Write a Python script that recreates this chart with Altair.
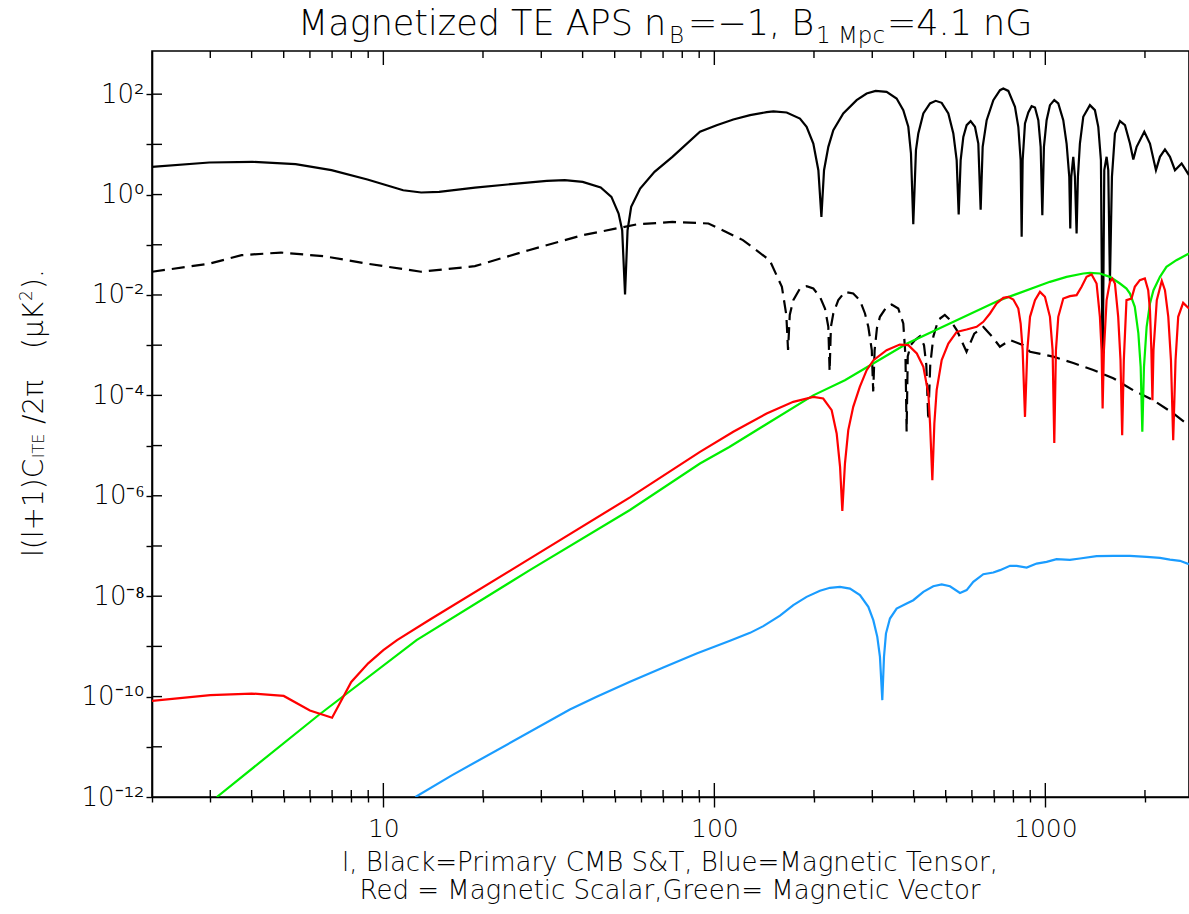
import math

import altair as alt
import pandas as pd

FONT = "DejaVu Sans"
TXT = "#000000"

# ---- spectra: multipole l and l(l+1)C_l/2pi in uK^2 ----
cmb_l = [2, 2.98, 4.02, 5.43, 6.97, 8.95, 11.48, 13.01, 14.74, 18.92,
         24.29, 31.18, 35.32, 40.02, 45.36, 48.87, 51.37, 52.67, 53.73, 54.68,
         56.07, 59.69, 65.96, 74.70, 90.5, 101.6, 114.1, 128.2, 143.9, 150.8,
         165.4, 181.4, 190.0, 199.1, 206.2, 210.6, 214.5, 221.0, 228.8, 245.2,
         269.1, 288.5, 307.1, 331.5, 355.4, 372.3, 385.5, 392.7, 399.1, 406.6,
         413.3, 428.0, 448.4, 466.4, 486.3, 509.3, 527.3, 539.7, 547.3, 554.9,
         565.3, 578.5, 594.8, 613.0, 627.4, 637.7, 646.7, 665.0, 696.5, 729.6,
         746.6, 773.0, 809.7, 828.7, 842.3, 848.2, 854.1, 868.1, 888.4, 909.3,
         930.6, 952.4, 968.1, 979.4, 990.4, 1009.0, 1032.7, 1064.3, 1094.3, 1133.0,
         1159.5, 1181.3, 1189.5, 1197.8, 1214.6, 1228.7, 1243.0, 1254.5, 1272.0, 1302.0,
         1363.8, 1412.0, 1445.4, 1472.3, 1489.7, 1507.0, 1531.6, 1549.5, 1567.5, 1589.6,
         1623.0, 1680.7, 1740.3, 1801.9, 1844.2, 1887.5, 1990.8, 2070.8, 2159.0, 2219.9,
         2298.5, 2379.8, 2464.3, 2580.9, 2716.4]
cmb_v = [3.57, 4.35, 4.49, 4.03, 3.06, 2.00, 1.22, 1.10, 1.13, 1.38,
         1.61, 1.88, 1.94, 1.79, 1.38, 0.90, 0.42, 0.195, 0.0102, 0.195,
         0.57, 1.32, 2.84, 5.65, 17.8, 24.1, 31.3, 38.2, 43.8, 45.2,
         43.1, 32.7, 22.4, 10.4, 3.06, 0.36, 3.06, 8.93, 19.2, 41.2,
         76.0, 103, 116, 111, 82.0, 48.0, 22.4, 6.58, 0.257, 7.66,
         16.5, 41.2, 65.2, 73.7, 67.2, 41.2, 16.5, 4.84, 0.40, 4.84,
         14.1, 24.1, 29.0, 22.4, 10.4, 0.50, 8.93, 30.3, 76.0, 120,
         130, 116, 55.9, 22.4, 4.84, 0.144, 4.84, 26.0, 43.1, 57.7,
         54.3, 30.3, 8.93, 0.389, 8.93, 30.3, 60.4, 76.0, 65.2, 30.3,
         10.4, 2.25, 0.211, 2.25, 5.65, 2.25, 0.168, 2.25, 10.4, 35.4,
         60.4, 48.0, 22.4, 4.84, 2e-4, 3.06, 5.65, 3.06, 0.0183, 2.25,
         16.5, 29.0, 24.1, 10.4, 4.99, 8.93, 17.8, 10.4, 3.06, 5.65,
         7.90, 5.65, 3.06, 4.16, 2.44]

cmb_dash_l = [2, 2.98, 3.73, 4.91, 6.63, 8.95, 13.0, 18.9, 27.5, 40,
              58.2, 74.7, 96, 122, 147, 160, 165, 167, 169, 173.2,
              181.4, 190, 199.1, 208.5, 215.9, 221, 223, 225, 228.8, 236.9,
              248.1, 262.8, 275.1, 285.2, 291.9, 299, 302, 305, 310, 316.5,
              331.5, 343.3, 359.5, 372.3, 378, 381, 384, 392, 404, 418,
              430, 437, 443, 449, 459, 475, 497, 515, 540, 578,
              610, 650, 690, 729, 782, 858, 899, 1057, 1215, 1396,
              1604, 1844, 2118, 2434, 2716]
cmb_dash_v = [0.029, 0.042, 0.062, 0.070, 0.059, 0.042, 0.029, 0.0375, 0.078, 0.155,
              0.254, 0.286, 0.265, 0.124, 0.049, 0.0145, 0.004, 8e-4, 0.004, 7.88e-3,
              0.01345, 0.01497, 0.01345, 9.19e-3, 5.38e-3, 2.32e-3, 3e-4, 2.32e-3, 4.28e-3, 7.88e-3,
              0.01155, 0.0107, 7.88e-3, 4.28e-3, 2.32e-3, 8e-4, 1.2e-4, 8e-4, 2.2e-3, 3.67e-3,
              5.8e-3, 6.46e-3, 5.38e-3, 2.7e-3, 6e-4, 1.9e-5, 6e-4, 1e-3, 1.26e-3, 1.5e-3,
              1e-3, 4e-4, 3.2e-5, 4e-4, 1.5e-3, 3.2e-3, 4e-3, 3.2e-3, 2e-3, 7.4e-4,
              1.7e-3, 2.3e-3, 1.5e-3, 9.3e-4, 1.26e-3, 1e-3, 7.4e-4, 5.9e-4, 4.4e-4, 3.2e-4,
              2.2e-4, 1.26e-4, 8e-5, 4.4e-5, 2.5e-5]

scalar_l = [2, 3, 4, 5, 6, 7, 8, 9, 10, 11, 13.8, 27.7, 55.6,
            90.5, 114.1, 143.9, 173.2, 199.1, 213.3, 226.2, 234.2, 239.8, 243.6,
            248.1, 253.9, 262.8, 275.1, 288.5, 302.6, 331.5, 363.3, 385.5, 409.0,
            428.0, 443.2, 448.4, 455.7, 462.1, 469.6, 486.3, 509.3, 539.7, 578.5,
            620.2, 649.6, 680.4, 712.7, 746.6, 773.0, 800.4, 828.7, 842.3, 854.1,
            868.1, 882.3, 899.0, 930.6, 963.4, 997.3, 1032.7, 1051.9, 1064.3, 1076.6,
            1094.3, 1133.0, 1186.5, 1243.0, 1286.9, 1332.5, 1379.5, 1428.4, 1461.9, 1479.0,
            1489.7, 1503.4, 1531.6, 1567.5, 1593.3, 1623.0, 1660.2, 1687.2, 1706.8, 1726.5,
            1758.7, 1821.0, 1863.5, 1929.8, 1998.3, 2045.6, 2070.8, 2091.1, 2106.6, 2122.2,
            2171.4, 2248.6, 2298.5, 2352.4, 2396.4, 2434.3, 2474.1, 2520.3, 2608.7, 2716.4]
scalar_v = [8.2e-11, 1.07e-10, 1.15e-10, 1.03e-10, 5.3e-11, 3.8e-11, 1.96e-10, 4.6e-10, 8.4e-10,
            1.33e-9, 3.4e-9, 5.6e-8, 9.3e-7,
            7.5e-6, 1.88e-5, 4.36e-5, 7.44e-5, 9.35e-5, 8.65e-5, 5.07e-5, 1.74e-5, 3.77e-6, 5e-7,
            4.39e-6, 2.03e-5, 5.91e-5, 1.48e-4, 3.18e-4, 5.03e-4, 7.95e-4, 1.03e-3, 1.0e-3, 6.82e-4,
            3.70e-4, 1.09e-4, 2.75e-5, 2.05e-6, 2.75e-5, 1.27e-4, 5.03e-4, 1.08e-3, 1.84e-3, 2.05e-3,
            2.32e-3, 2.92e-3, 4.28e-3, 6.76e-3, 8.77e-3, 9.19e-3, 8.13e-3, 5.38e-3, 2.70e-3, 7.95e-4,
            3.73e-5, 7.95e-4, 3.67e-3, 7.88e-3, 0.01153, 9.19e-3, 3.67e-3, 7.95e-4, 1.13e-5, 7.95e-4,
            3.67e-3, 8.50e-3, 9.46e-3, 9.91e-3, 0.01452, 0.02297, 0.02559, 0.01692, 3.67e-3, 7.95e-4,
            5.47e-5, 7.95e-4, 7.88e-3, 0.01827, 0.02130, 0.01692, 3.67e-3, 5.03e-4, 1.61e-5, 5.03e-4,
            7.88e-3, 8.50e-3, 0.01452, 0.01972, 0.02130, 0.01247, 4.98e-3, 7.95e-4, 8.02e-5, 7.95e-4,
            7.88e-3, 0.01914, 0.01247, 3.67e-3, 5.03e-4, 1.28e-5, 5.03e-4, 3.67e-3, 6.97e-3, 5.38e-3]

vector_l = [3.14, 6.38, 12.6, 27.7, 55.6, 90.5, 111, 199, 248, 381,
            729, 1032.7, 1159.5, 1302, 1363.8, 1461.9, 1567.5, 1680.7, 1758.7, 1801.9,
            1863.5, 1910.3, 1941.2, 1963.6, 1986.4, 2023.4, 2070.8, 2122.2, 2219.9, 2322.5,
            2488.7, 2716.4]
vector_v = [1e-12, 4.3e-11, 1.33e-9, 3.3e-8, 5.2e-7, 4.4e-6, 9.4e-6, 1.0e-4, 2.0e-4, 1.07e-3,
            7.9e-3, 0.01827, 0.02297, 0.02677, 0.0276, 0.02677, 0.02297, 0.01692, 0.01345, 0.01069,
            5.8e-3, 1.71e-3, 3.7e-4, 1.88e-5, 3.7e-4, 2.32e-3, 6.76e-3, 0.01246, 0.02297, 0.0363,
            0.0493, 0.067]

tensor_l = [12.5, 16.1, 36.6, 44.1, 55.6, 70.1, 88.4, 111.5, 128.2, 140.6,
            157.9, 173.2, 190.0, 208.5, 223.6, 239.7, 256.9, 275.4, 291.9, 302.2,
            310.7, 316.5, 321.7, 325.5, 330.0, 339.3, 355.4, 381.1, 399.1, 428.0,
            458.6, 486.3, 515.2, 552.3, 578.5, 605.9, 649.6, 696.5, 729.6, 782.2,
            819.3, 878.3, 941.2, 1009.0, 1081.4, 1186.5, 1272.0, 1428.8, 1604.6, 1801.9,
            2023.0, 2219.9, 2379.8, 2551.2, 2716]
tensor_v = [1e-12, 2.7e-12, 5.52e-11, 9.88e-11, 1.97e-10, 3.79e-10, 7.21e-10, 1.29e-9, 1.86e-9, 2.53e-9,
            4.1e-9, 6.62e-9, 9.70e-9, 1.28e-8, 1.47e-8, 1.53e-8, 1.42e-8, 1.05e-8, 6.13e-9, 3.33e-9,
            1.55e-9, 6.19e-10, 8.5e-11, 6.19e-10, 1.80e-9, 3.59e-9, 5.68e-9, 7.14e-9, 8.32e-9, 1.22e-8,
            1.58e-8, 1.71e-8, 1.58e-8, 1.16e-8, 1.32e-8, 1.93e-8, 2.74e-8, 2.96e-8, 3.30e-8, 4.02e-8,
            4.02e-8, 3.72e-8, 4.47e-8, 4.83e-8, 5.46e-8, 5.29e-8, 5.63e-8, 6.26e-8, 6.36e-8, 6.36e-8,
            6.07e-8, 5.80e-8, 5.37e-8, 5.06e-8, 4.34e-8]

# ---- axes ----
x_major = [10, 100, 1000]
x_minor = [2, 3, 4, 5, 6, 7, 8, 9, 20, 30, 40, 50, 60, 70, 80, 90,
           200, 300, 400, 500, 600, 700, 800, 900, 2000]
y_labelled = [1e2, 1e0, 1e-2, 1e-4, 1e-6, 1e-8, 1e-10, 1e-12]
y_label_text = ["10²", "10⁰", "10⁻²", "10⁻⁴", "10⁻⁶", "10⁻⁸", "10⁻¹⁰", "10⁻¹²"]
y_ticks = [1e2, 1e1, 1e0, 1e-1, 1e-2, 1e-3, 1e-4, 1e-5, 1e-6, 1e-7, 1e-8, 1e-9, 1e-10,
           1e-11, 1e-12]

W, H = 1037, 746
X_MIN, X_MAX = 2, 2717
Y_MIN, Y_MAX = 1e-12, 724
XS = alt.Scale(type="log", domain=[X_MIN, X_MAX], nice=False)
YS = alt.Scale(type="log", domain=[Y_MIN, Y_MAX], nice=False)

# pixels per decade on each axis, used to give the inward ticks a fixed length
X_PER_DEC = W / math.log10(X_MAX / X_MIN)
Y_PER_DEC = H / math.log10(Y_MAX / Y_MIN)

major_test = "indexof([" + ",".join(str(v) for v in x_major) + "], datum.value) >= 0"


def ylabel_expr():
    expr = "''"
    for v, t in reversed(list(zip(y_labelled, y_label_text))):
        expr = f"(datum.value > {v * 0.5} && datum.value < {v * 2}) ? '{t}' : ({expr})"
    return expr


def frame(ls, vs):
    return pd.DataFrame({"l": ls, "v": vs})


ax_bottom = alt.Axis(orient="bottom", values=x_major + x_minor,
                     labelExpr=f"{major_test} ? format(datum.value, 'd') : ''",
                     ticks=True, tickSize=alt.ExprRef(f"{major_test} ? 10 : 5"),
                     tickColor="black", tickWidth=1.4,
                     domain=True, domainColor="black", domainWidth=1.6, grid=False,
                     labelFont=FONT, labelFontSize=25, labelColor=TXT, labelPadding=9,
                     labelFontWeight=300)
ax_left = alt.Axis(orient="left", values=y_ticks, labelExpr=ylabel_expr(),
                   ticks=True, tickSize=6, tickColor="black", tickWidth=1.4,
                   domain=True, domainColor="black", domainWidth=1.6, grid=False,
                   labelFont=FONT, labelFontSize=26, labelColor=TXT, labelPadding=2,
                   labelFontWeight=300)


def line(df, color, width=2.2, dash=None, xaxis=None, yaxis=None, detail=None):
    kw = dict(color=color, strokeWidth=width, clip=True)
    if dash:
        kw["strokeDash"] = dash
    enc = dict(
        x=alt.X("l:Q", scale=XS, axis=xaxis, title=None),
        y=alt.Y("v:Q", scale=YS, axis=yaxis, title=None),
    )
    if detail:
        enc["detail"] = alt.Detail(f"{detail}:N")
    return alt.Chart(df).mark_line(**kw).encode(**enc)


# inward tick marks on the bottom, top and left edges
tick_rows = []
for t in x_major + x_minor:
    f = 10 ** ((14 if t in x_major else 7) / Y_PER_DEC)
    tick_rows += [(t, Y_MIN, f"b{t}"), (t, Y_MIN * f, f"b{t}"),
                  (t, Y_MAX, f"t{t}"), (t, Y_MAX / f, f"t{t}")]
g = 10 ** (10 / X_PER_DEC)
for t in y_ticks[:-1]:
    tick_rows += [(X_MIN, t, f"y{t}"), (X_MIN * g, t, f"y{t}")]
ticks = pd.DataFrame(tick_rows, columns=["l", "v", "k"])

layers = [
    line(frame(cmb_l, cmb_v), "black", xaxis=ax_bottom, yaxis=ax_left),
    line(ticks, "black", width=1.4, detail="k"),
    line(frame(cmb_dash_l, cmb_dash_v), "black", dash=[13, 7]),
    line(frame(vector_l, vector_v), "#00ee00"),
    line(frame(scalar_l, scalar_v), "#ff0000"),
    line(frame(tensor_l, tensor_v), "#1a9cff"),
]

one = alt.Data(values=[{}])


def text(s, x, y, size, angle=0, align="left"):
    kw = dict(text=s, font=FONT, fontSize=size, fontWeight=300, color=TXT, align=align,
              baseline="alphabetic")
    if angle:
        kw["angle"] = angle
    return alt.Chart(one).mark_text(**kw).encode(x=alt.value(x), y=alt.value(y))


# title with subscripts (positions relative to the plot's top-left corner)
ox, oy = 152, 51
title_parts = [
    ("Magnetized TE APS n", 298, 35, 35),
    ("B", 669, 43, 23),
    ("=−1, B", 688, 35, 35),
    ("1 Mpc", 816, 43, 23),
    ("=4.1 nG", 887, 35, 35),
]
for s, px, py, fs in title_parts:
    layers.append(text(s, px - ox, py - oy, fs))

# rotated y title: l(l+1)C_lTE/2pi (uK^2).
ytitle_parts = [
    ("l(l+1)C", 43, 557, 28),
    ("lTE", 44, 458, 16),
    ("/2π", 43, 424, 28),
    ("(μK", 43, 349, 28),
    ("2", 32, 301, 17),
    (").", 43, 289, 28),
]
for s, px, py, fs in ytitle_parts:
    layers.append(text(s, px - ox, py - oy, fs, angle=270))

# x title, two centred lines
xtitle_lines = ["l, Black=Primary CMB S&T, Blue=Magnetic Tensor,",
                "Red = Magnetic Scalar,Green= Magnetic Vector"]
for i, s in enumerate(xtitle_lines):
    layers.append(text(s, 670 - ox, 871 + 28 * i - oy, 26, align="center"))

chart = alt.layer(*layers).resolve_axis(x="independent", y="independent").properties(
    width=W, height=H,
    autosize=alt.AutoSizeParams(type="none"),
    padding={"left": 152, "top": 51, "right": 0, "bottom": 112},
).configure_view(stroke="black", strokeWidth=1.6)

chart.save("out.html", embed_options={"renderer": "svg", "actions": False})
